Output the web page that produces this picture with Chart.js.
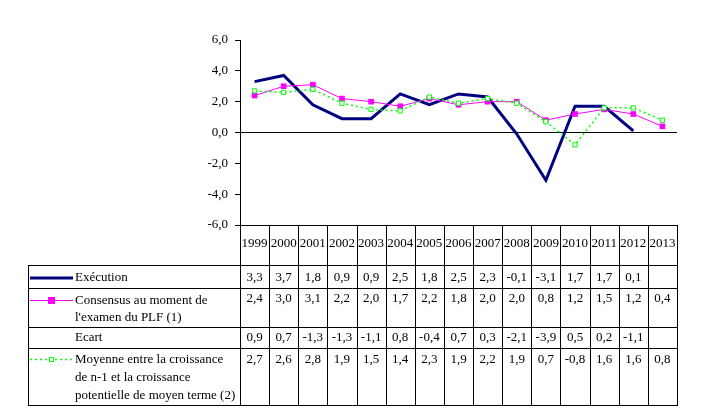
<!DOCTYPE html>
<html lang="fr">
<head>
    <meta charset="UTF-8">
    <title>Croissance : exécution et prévisions</title>
    <script src="https://cdn.jsdelivr.net/npm/chart.js"></script>
    <style>
        html, body { margin: 0; padding: 0; background: #fff; }
        #wrap { width: 704px; height: 410px; position: relative; }
    </style>
</head>
<body>
    <div id="wrap"><canvas id="growthChart"></canvas></div>

    <script>
        // Données
        const years = ['1999', '2000', '2001', '2002', '2003', '2004', '2005', '2006', '2007', '2008', '2009', '2010', '2011', '2012', '2013'];
        const execution = [3.3, 3.7, 1.8, 0.9, 0.9, 2.5, 1.8, 2.5, 2.3, -0.1, -3.1, 1.7, 1.7, 0.1, null];
        const consensus = [2.4, 3.0, 3.1, 2.2, 2.0, 1.7, 2.2, 1.8, 2.0, 2.0, 0.8, 1.2, 1.5, 1.2, 0.4];
        const ecart = [0.9, 0.7, -1.3, -1.3, -1.1, 0.8, -0.4, 0.7, 0.3, -2.1, -3.9, 0.5, 0.2, -1.1, null];
        const moyenne = [2.7, 2.6, 2.8, 1.9, 1.5, 1.4, 2.3, 1.9, 2.2, 1.9, 0.7, -0.8, 1.6, 1.6, 0.8];

        const rowLabels = [
            ['Exécution'],
            ['Consensus au moment de', "l'examen du PLF (1)"],
            ['Ecart'],
            ['Moyenne entre la croissance', 'de n-1 et la croissance', 'potentielle de moyen terme (2)']
        ];

        const FAMILY = '"Liberation Serif", "Times New Roman", serif';
        const FONT = '13px ' + FAMILY;
        const fmt = v => (v === null || v === undefined) ? '' : v.toFixed(1).replace('.', ',');

        // Tableau de données sous le graphique (style Excel)
        const dataTable = {
            id: 'dataTable',
            afterDraw(chart) {
                const ctx = chart.ctx;
                const x = chart.scales.x;
                const area = chart.chartArea;
                const colW = x.getPixelForValue(1) - x.getPixelForValue(0);
                const left = area.left, right = area.right;
                const tableLeft = 28;
                const headTop = area.bottom;
                const lines = [265, 288, 327, 348, 405];
                const rowValues = [execution, consensus, ecart, moyenne];
                const valueY = [278, 299, 338, 360];
                const textY = [[278], [301, 318], [338], [360, 378, 396]];

                ctx.save();
                ctx.strokeStyle = '#000';
                ctx.lineWidth = 1;
                ctx.beginPath();
                ctx.moveTo(left, headTop + 0.5); ctx.lineTo(right, headTop + 0.5);
                lines.forEach(y => { ctx.moveTo(tableLeft, y + 0.5); ctx.lineTo(right, y + 0.5); });
                ctx.moveTo(tableLeft + 0.5, lines[0]); ctx.lineTo(tableLeft + 0.5, lines[lines.length - 1] + 1);
                for (let i = 0; i <= years.length; i++) {
                    const px = Math.round(left + i * colW) + 0.5;
                    ctx.moveTo(px, headTop); ctx.lineTo(px, lines[lines.length - 1] + 1);
                }
                ctx.stroke();

                ctx.font = FONT;
                ctx.fillStyle = '#000';
                ctx.textBaseline = 'middle';
                ctx.textAlign = 'center';
                years.forEach((yr, i) => ctx.fillText(yr, x.getPixelForValue(i), 244));
                rowValues.forEach((vals, r) => {
                    vals.forEach((v, i) => ctx.fillText(fmt(v), x.getPixelForValue(i), valueY[r]));
                });

                ctx.textAlign = 'left';
                rowLabels.forEach((txt, r) => {
                    txt.forEach((t, k) => ctx.fillText(t, 75, textY[r][k]));
                });

                // légendes dans le tableau
                ctx.strokeStyle = '#000080';
                ctx.lineWidth = 3;
                ctx.beginPath(); ctx.moveTo(30, 278); ctx.lineTo(73, 278); ctx.stroke();

                ctx.strokeStyle = '#FF00FF';
                ctx.lineWidth = 1;
                ctx.beginPath(); ctx.moveTo(30, 300.5); ctx.lineTo(73, 300.5); ctx.stroke();
                ctx.fillStyle = '#FF00FF';
                ctx.fillRect(48, 297, 7, 7);

                ctx.strokeStyle = '#00FF00';
                ctx.lineWidth = 1.5;
                ctx.setLineDash([2, 3]);
                ctx.beginPath(); ctx.moveTo(30, 359.5); ctx.lineTo(73, 359.5); ctx.stroke();
                ctx.setLineDash([]);
                ctx.fillStyle = '#fff';
                ctx.fillRect(49, 357, 5, 5);
                ctx.lineWidth = 1;
                ctx.strokeRect(49.5, 357.5, 4, 4);
                ctx.restore();
            }
        };

        new Chart(document.getElementById('growthChart'), {
            type: 'line',
            data: {
                labels: years,
                datasets: [{
                    label: 'Exécution',
                    data: execution,
                    borderColor: '#000080',
                    backgroundColor: '#000080',
                    borderWidth: 3,
                    pointRadius: 0,
                    tension: 0,
                    order: 3
                }, {
                    label: "Consensus au moment de l'examen du PLF (1)",
                    data: consensus,
                    borderColor: '#FF00FF',
                    backgroundColor: '#FF00FF',
                    borderWidth: 1,
                    pointStyle: 'rect',
                    pointRadius: 4,
                    pointBorderWidth: 0,
                    tension: 0,
                    order: 2
                }, {
                    label: 'Moyenne entre la croissance de n-1 et la croissance potentielle de moyen terme (2)',
                    data: moyenne,
                    borderColor: '#00FF00',
                    backgroundColor: '#FFFFFF',
                    borderWidth: 1.5,
                    borderDash: [2, 3],
                    pointStyle: 'rect',
                    pointRadius: 3,
                    pointBorderWidth: 1,
                    pointBorderColor: '#00FF00',
                    pointBackgroundColor: '#FFFFFF',
                    tension: 0,
                    order: 1
                }]
            },
            options: {
                responsive: true,
                maintainAspectRatio: false,
                animation: false,
                layout: { padding: { left: 0, top: 40, right: 27, bottom: 185 } },
                plugins: {
                    legend: { display: false },
                    tooltip: { enabled: false }
                },
                scales: {
                    x: {
                        display: false,
                        offset: true
                    },
                    y: {
                        min: -6,
                        max: 6,
                        afterFit(scale) { scale.width = 240; },
                        ticks: {
                            stepSize: 2,
                            color: '#000',
                            padding: 7,
                            font: { family: FAMILY, size: 13 },
                            callback: v => fmt(v)
                        },
                        grid: {
                            color: c => (c.tick && c.tick.value === 0) ? '#000' : 'rgba(0,0,0,0)',
                            tickColor: '#000',
                            tickLength: 5,
                            lineWidth: 1
                        },
                        border: { display: true, color: '#000', width: 1 }
                    }
                }
            },
            plugins: [dataTable]
        });
    </script>
</body>
</html>
